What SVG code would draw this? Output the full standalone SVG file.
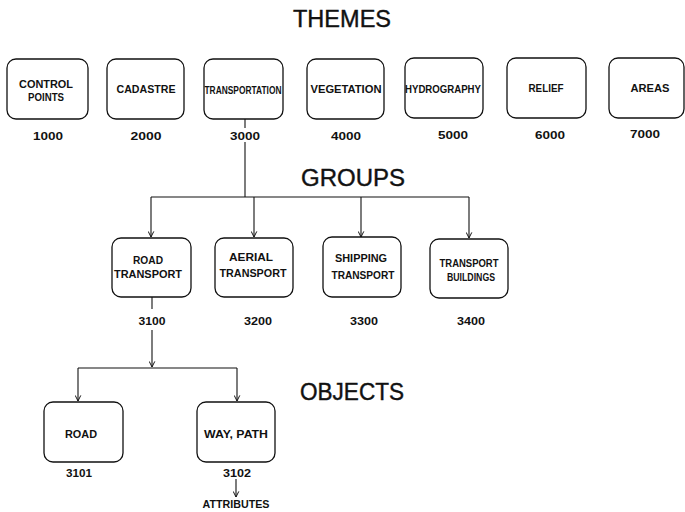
<svg xmlns="http://www.w3.org/2000/svg" width="685" height="512" viewBox="0 0 685 512">
<defs>
<marker id="arr" viewBox="0 0 10 10" refX="10" refY="5" markerWidth="7" markerHeight="7" orient="auto" markerUnits="userSpaceOnUse">
<path d="M2,1 L10,5 L2,9" fill="none" stroke="#111" stroke-width="1.4"/>
</marker>
<style>
.box{fill:#fff;stroke:#111;stroke-width:1.3}
.lbl{font-family:"Liberation Sans",Arial,sans-serif;font-weight:bold;font-size:10.5px;fill:#111;text-anchor:middle}
.num{font-family:"Liberation Sans",Arial,sans-serif;font-weight:bold;font-size:11px;fill:#111;text-anchor:middle}
.title{font-family:"Liberation Sans",Arial,sans-serif;font-size:23px;fill:#111;stroke:#111;stroke-width:0.4;text-anchor:middle}
.con{fill:none;stroke:#111;stroke-width:1.1}
</style>
</defs>
<rect width="685" height="512" fill="#fff"/>
<text class="title" x="342" y="27" textLength="98" lengthAdjust="spacingAndGlyphs">THEMES</text>
<text class="title" x="353" y="186" textLength="104" lengthAdjust="spacingAndGlyphs">GROUPS</text>
<text class="title" x="352" y="400" textLength="104" lengthAdjust="spacingAndGlyphs">OBJECTS</text>

<g id="connectors">
<path class="con" d="M245,119 V128"/>
<path class="con" d="M245,142 V197"/>
<path class="con" d="M151,197 H469"/>
<path class="con" marker-end="url(#arr)" d="M151,197 V237"/>
<path class="con" marker-end="url(#arr)" d="M254,197 V237"/>
<path class="con" marker-end="url(#arr)" d="M361,197 V237"/>
<path class="con" marker-end="url(#arr)" d="M469,197 V238"/>
<path class="con" d="M152,297 V309"/>
<path class="con" marker-end="url(#arr)" d="M152,330 V367"/>
<path class="con" d="M78,368 H237"/>
<path class="con" marker-end="url(#arr)" d="M78,368 V401"/>
<path class="con" marker-end="url(#arr)" d="M237,368 V401"/>
<path class="con" marker-end="url(#arr)" d="M236,479 V497"/>
</g>

<g id="t1000"><rect class="box" x="7" y="59" width="81" height="60" rx="9"/><text class="lbl" x="46" y="88" textLength="54" lengthAdjust="spacingAndGlyphs">CONTROL</text><text class="lbl" x="46" y="101" textLength="36" lengthAdjust="spacingAndGlyphs">POINTS</text><text class="num" x="48" y="140" textLength="30" lengthAdjust="spacingAndGlyphs">1000</text></g>
<g id="t2000"><rect class="box" x="107" y="59" width="77" height="60" rx="9"/><text class="lbl" x="146" y="93" textLength="59" lengthAdjust="spacingAndGlyphs">CADASTRE</text><text class="num" x="146" y="140" textLength="31" lengthAdjust="spacingAndGlyphs">2000</text></g>
<g id="t3000"><rect class="box" x="204" y="59" width="79" height="60" rx="9"/><text class="lbl" x="243" y="94" font-size="12" textLength="77" lengthAdjust="spacingAndGlyphs">TRANSPORTATION</text><text class="num" x="245" y="140" textLength="30" lengthAdjust="spacingAndGlyphs">3000</text></g>
<g id="t4000"><rect class="box" x="307" y="59" width="77" height="60" rx="9"/><text class="lbl" x="346" y="93" textLength="71" lengthAdjust="spacingAndGlyphs">VEGETATION</text><text class="num" x="346" y="140" textLength="30" lengthAdjust="spacingAndGlyphs">4000</text></g>
<g id="t5000"><rect class="box" x="405" y="58" width="78" height="60" rx="9"/><text class="lbl" x="443" y="93" font-size="11.5" textLength="76" lengthAdjust="spacingAndGlyphs">HYDROGRAPHY</text><text class="num" x="453" y="139" textLength="30" lengthAdjust="spacingAndGlyphs">5000</text></g>
<g id="t6000"><rect class="box" x="507" y="58" width="79" height="60" rx="9"/><text class="lbl" x="546" y="92" textLength="35" lengthAdjust="spacingAndGlyphs">RELIEF</text><text class="num" x="550" y="139" textLength="30" lengthAdjust="spacingAndGlyphs">6000</text></g>
<g id="t7000"><rect class="box" x="609" y="58" width="75" height="60" rx="9"/><text class="lbl" x="650" y="92" textLength="39" lengthAdjust="spacingAndGlyphs">AREAS</text><text class="num" x="645" y="138" textLength="30" lengthAdjust="spacingAndGlyphs">7000</text></g>

<g id="g3100"><rect class="box" x="112" y="238" width="79" height="59" rx="9"/><text class="lbl" x="148" y="264" textLength="30" lengthAdjust="spacingAndGlyphs">ROAD</text><text class="lbl" x="148" y="278" textLength="68" lengthAdjust="spacingAndGlyphs">TRANSPORT</text><text class="num" x="152" y="325" textLength="27" lengthAdjust="spacingAndGlyphs">3100</text></g>
<g id="g3200"><rect class="box" x="215" y="238" width="78" height="59" rx="9"/><text class="lbl" x="251" y="261" textLength="44" lengthAdjust="spacingAndGlyphs">AERIAL</text><text class="lbl" x="253" y="277" textLength="67" lengthAdjust="spacingAndGlyphs">TRANSPORT</text><text class="num" x="258" y="325" textLength="28" lengthAdjust="spacingAndGlyphs">3200</text></g>
<g id="g3300"><rect class="box" x="323" y="237" width="78" height="60" rx="9"/><text class="lbl" x="361" y="262" textLength="52" lengthAdjust="spacingAndGlyphs">SHIPPING</text><text class="lbl" x="363" y="279" textLength="63" lengthAdjust="spacingAndGlyphs">TRANSPORT</text><text class="num" x="364" y="325" textLength="28" lengthAdjust="spacingAndGlyphs">3300</text></g>
<g id="g3400"><rect class="box" x="430" y="239" width="78" height="59" rx="9"/><text class="lbl" x="469" y="267" textLength="59" lengthAdjust="spacingAndGlyphs">TRANSPORT</text><text class="lbl" x="471" y="281" textLength="48" lengthAdjust="spacingAndGlyphs">BUILDINGS</text><text class="num" x="471" y="325" textLength="28" lengthAdjust="spacingAndGlyphs">3400</text></g>

<g id="o3101"><rect class="box" x="44" y="402" width="79" height="60" rx="9"/><text class="lbl" x="81" y="438" textLength="32" lengthAdjust="spacingAndGlyphs">ROAD</text><text class="num" x="79" y="477" textLength="26" lengthAdjust="spacingAndGlyphs">3101</text></g>
<g id="o3102"><rect class="box" x="197" y="402" width="78" height="60" rx="9"/><text class="lbl" x="236" y="438" textLength="64" lengthAdjust="spacingAndGlyphs">WAY, PATH</text><text class="num" x="237" y="477" textLength="28" lengthAdjust="spacingAndGlyphs">3102</text></g>
<g id="attr"><text class="lbl" x="236" y="508" font-size="9.5" textLength="67" lengthAdjust="spacingAndGlyphs">ATTRIBUTES</text></g>
</svg>
